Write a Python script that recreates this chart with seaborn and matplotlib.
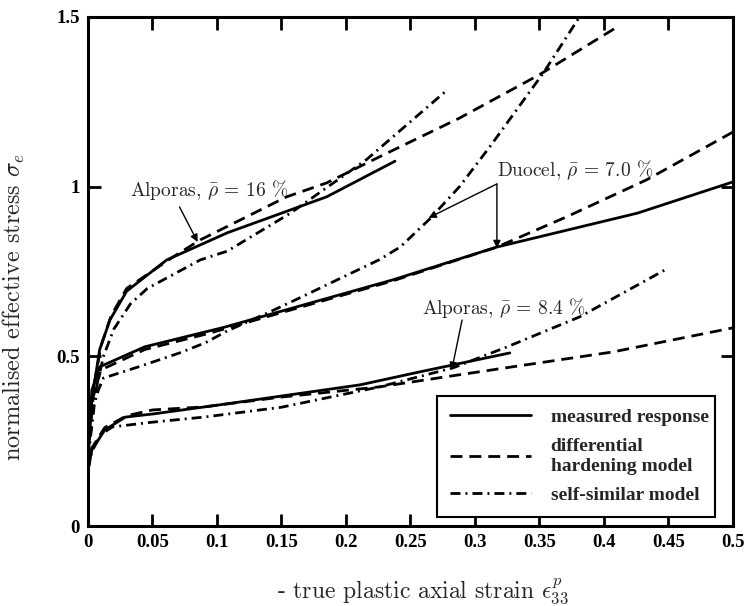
import numpy as np
import pandas as pd
import matplotlib
matplotlib.use("Agg")
import matplotlib.pyplot as plt
from matplotlib.lines import Line2D
import seaborn as sns

# ---------------- data ----------------
a16_meas_x = [0, 0.003, 0.009, 0.017, 0.03, 0.061, 0.108, 0.185, 0.238]
a16_meas_y = [0.2, 0.371, 0.519, 0.607, 0.692, 0.784, 0.864, 0.97, 1.075]
a16_diff_x = [0, 0.004, 0.01, 0.018, 0.03, 0.066, 0.087, 0.154, 0.185, 0.226, 0.288, 0.35, 0.41]
a16_diff_y = [0.2, 0.40, 0.53, 0.62, 0.70, 0.793, 0.843, 0.97, 1.011, 1.088, 1.202, 1.33, 1.47]
a16_self_x = [0, 0.005, 0.012, 0.02, 0.033, 0.046, 0.087, 0.108, 0.157, 0.216, 0.277]
a16_self_y = [0.2, 0.38, 0.50, 0.58, 0.655, 0.70, 0.784, 0.81, 0.922, 1.08, 1.28]

duo_meas_x = [0, 0.003, 0.009, 0.044, 0.091, 0.105, 0.236, 0.317, 0.426, 0.5]
duo_meas_y = [0.2, 0.40, 0.469, 0.528, 0.572, 0.585, 0.725, 0.822, 0.922, 1.014]
duo_diff_x = [0, 0.004, 0.01, 0.044, 0.091, 0.105, 0.236, 0.317, 0.371, 0.433, 0.5]
duo_diff_y = [0.2, 0.38, 0.46, 0.52, 0.565, 0.58, 0.722, 0.822, 0.911, 1.02, 1.161]
duo_self_x = [0, 0.005, 0.008, 0.012, 0.04, 0.071, 0.091, 0.108, 0.141, 0.164, 0.193,
              0.226, 0.242, 0.265, 0.288, 0.312, 0.353, 0.381, 0.39]
duo_self_y = [0.2, 0.36, 0.40, 0.436, 0.47, 0.51, 0.54, 0.575, 0.631, 0.672, 0.725,
              0.785, 0.822, 0.905, 1.0, 1.12, 1.335, 1.5, 1.56]

a84_meas_x = [0, 0.003, 0.013, 0.029, 0.05, 0.102, 0.211, 0.257, 0.327]
a84_meas_y = [0.165, 0.224, 0.283, 0.321, 0.33, 0.357, 0.416, 0.454, 0.51]
a84_diff_x = [0, 0.003, 0.013, 0.03, 0.05, 0.09, 0.15, 0.226, 0.278, 0.329, 0.407, 0.5]
a84_diff_y = [0.165, 0.23, 0.29, 0.325, 0.342, 0.351, 0.38, 0.41, 0.44, 0.469, 0.513, 0.584]
a84_self_x = [0, 0.003, 0.01, 0.019, 0.05, 0.09, 0.15, 0.226, 0.283, 0.325, 0.381, 0.447]
a84_self_y = [0.165, 0.22, 0.27, 0.292, 0.306, 0.321, 0.35, 0.41, 0.466, 0.528, 0.616, 0.754]

models = ["measured response", "differential\nhardening model", "self-similar model"]
x_ticks = [0, 0.05, 0.1, 0.15, 0.2, 0.25, 0.3, 0.35, 0.4, 0.45, 0.5]
x_tick_labels = ["0", "0.05", "0.1", "0.15", "0.2", "0.25", "0.3", "0.35", "0.4", "0.45", "0.5"]
y_ticks = [0, 0.5, 1, 1.5]
y_tick_labels = ["0", "0.5", "1", "1.5"]

series = [
    ("Alporas16", models[0], a16_meas_x, a16_meas_y),
    ("Alporas16", models[1], a16_diff_x, a16_diff_y),
    ("Alporas16", models[2], a16_self_x, a16_self_y),
    ("Duocel", models[0], duo_meas_x, duo_meas_y),
    ("Duocel", models[1], duo_diff_x, duo_diff_y),
    ("Duocel", models[2], duo_self_x, duo_self_y),
    ("Alporas84", models[0], a84_meas_x, a84_meas_y),
    ("Alporas84", models[1], a84_diff_x, a84_diff_y),
    ("Alporas84", models[2], a84_self_x, a84_self_y),
]
rows = []
for foam, model, xs, ys in series:
    for i, (xv, yv) in enumerate(zip(xs, ys)):
        rows.append({"foam": foam, "model": model, "strain": xv, "stress": yv,
                     "unit": foam + "|" + model, "order": i})
df = pd.DataFrame(rows)

# ---------------- style ----------------
sns.set_style("ticks")
plt.rcParams["mathtext.fontset"] = "cm"
plt.rcParams["font.family"] = ["cmr10", "DejaVu Serif"]
plt.rcParams["axes.unicode_minus"] = False

fig = plt.figure(figsize=(7.5, 6.06), dpi=100)
ax = fig.add_axes([0.1173, 0.132, 0.86, 0.840])

lw = 2.0
dashes = {models[0]: "", models[1]: (4.3, 2.5), models[2]: (3.6, 1.8, 0.7, 1.8)}
sns.lineplot(data=df, x="strain", y="stress", style="model", units="unit",
             estimator=None, sort=False, dashes=dashes, color="black",
             linewidth=lw, ax=ax, legend=False)

ax.set_xlim(0, 0.5)
ax.set_ylim(0, 1.5)
ax.set_xticks(x_ticks)
ax.set_xticklabels(x_tick_labels)
ax.set_yticks(y_ticks)
ax.set_yticklabels(y_tick_labels)
for lab in ax.get_xticklabels() + ax.get_yticklabels():
    lab.set_fontfamily("Liberation Serif")
    lab.set_fontweight("bold")
    lab.set_fontsize(13.5)
ax.tick_params(direction="in", length=9, width=2, top=True, right=True,
               pad=6, colors="black")
for sp in ax.spines.values():
    sp.set_linewidth(2.2)
    sp.set_color("black")

ax.set_xlabel(r"- true plastic axial strain $\epsilon_{33}^{p}$", fontsize=17)
ax.set_ylabel(r"normalised effective stress $\sigma_e$", fontsize=17.5)
ax.xaxis.set_label_coords(0.519, -0.10)
ax.yaxis.set_label_coords(-0.095, 0.43)

# annotations
arrow = dict(arrowstyle="-|>", color="black", lw=1.0, mutation_scale=11, shrinkA=0, shrinkB=0)
ax.text(0.0326, 0.99, r"Alporas, $\bar{\rho}$ = 16 %", fontsize=14, va="center", ha="left")
ax.annotate("", xy=(0.085, 0.837), xytext=(0.071, 0.94), arrowprops=arrow)

ax.text(0.317, 1.05, r"Duocel, $\bar{\rho}$ = 7.0 %", fontsize=14, va="center", ha="left")
ax.annotate("", xy=(0.264, 0.908), xytext=(0.317, 1.008), arrowprops=arrow)
ax.annotate("", xy=(0.317, 0.819), xytext=(0.317, 1.008), arrowprops=arrow)

ax.text(0.259, 0.642, r"Alporas, $\bar{\rho}$ = 8.4 %", fontsize=14, va="center", ha="left")
ax.annotate("", xy=(0.282, 0.46), xytext=(0.29, 0.607), arrowprops=arrow)

# legend
handles = [Line2D([], [], color="black", lw=lw, dashes=dashes[m]) if dashes[m] else
           Line2D([], [], color="black", lw=lw) for m in models]
leg = ax.legend(handles, models, loc="lower left", bbox_to_anchor=(0.541, 0.018, 0.431, 0.245),
                mode="expand", borderaxespad=0, frameon=True, fancybox=False, handlelength=4.2,
                labelspacing=0.62, borderpad=0.65, handletextpad=1.0,
                prop={"family": "Liberation Serif", "weight": "bold", "size": 14})
leg.get_frame().set_edgecolor("black")
leg.get_frame().set_linewidth(1.5)
leg.get_frame().set_alpha(1)

fig.savefig("out.png", dpi=100)
